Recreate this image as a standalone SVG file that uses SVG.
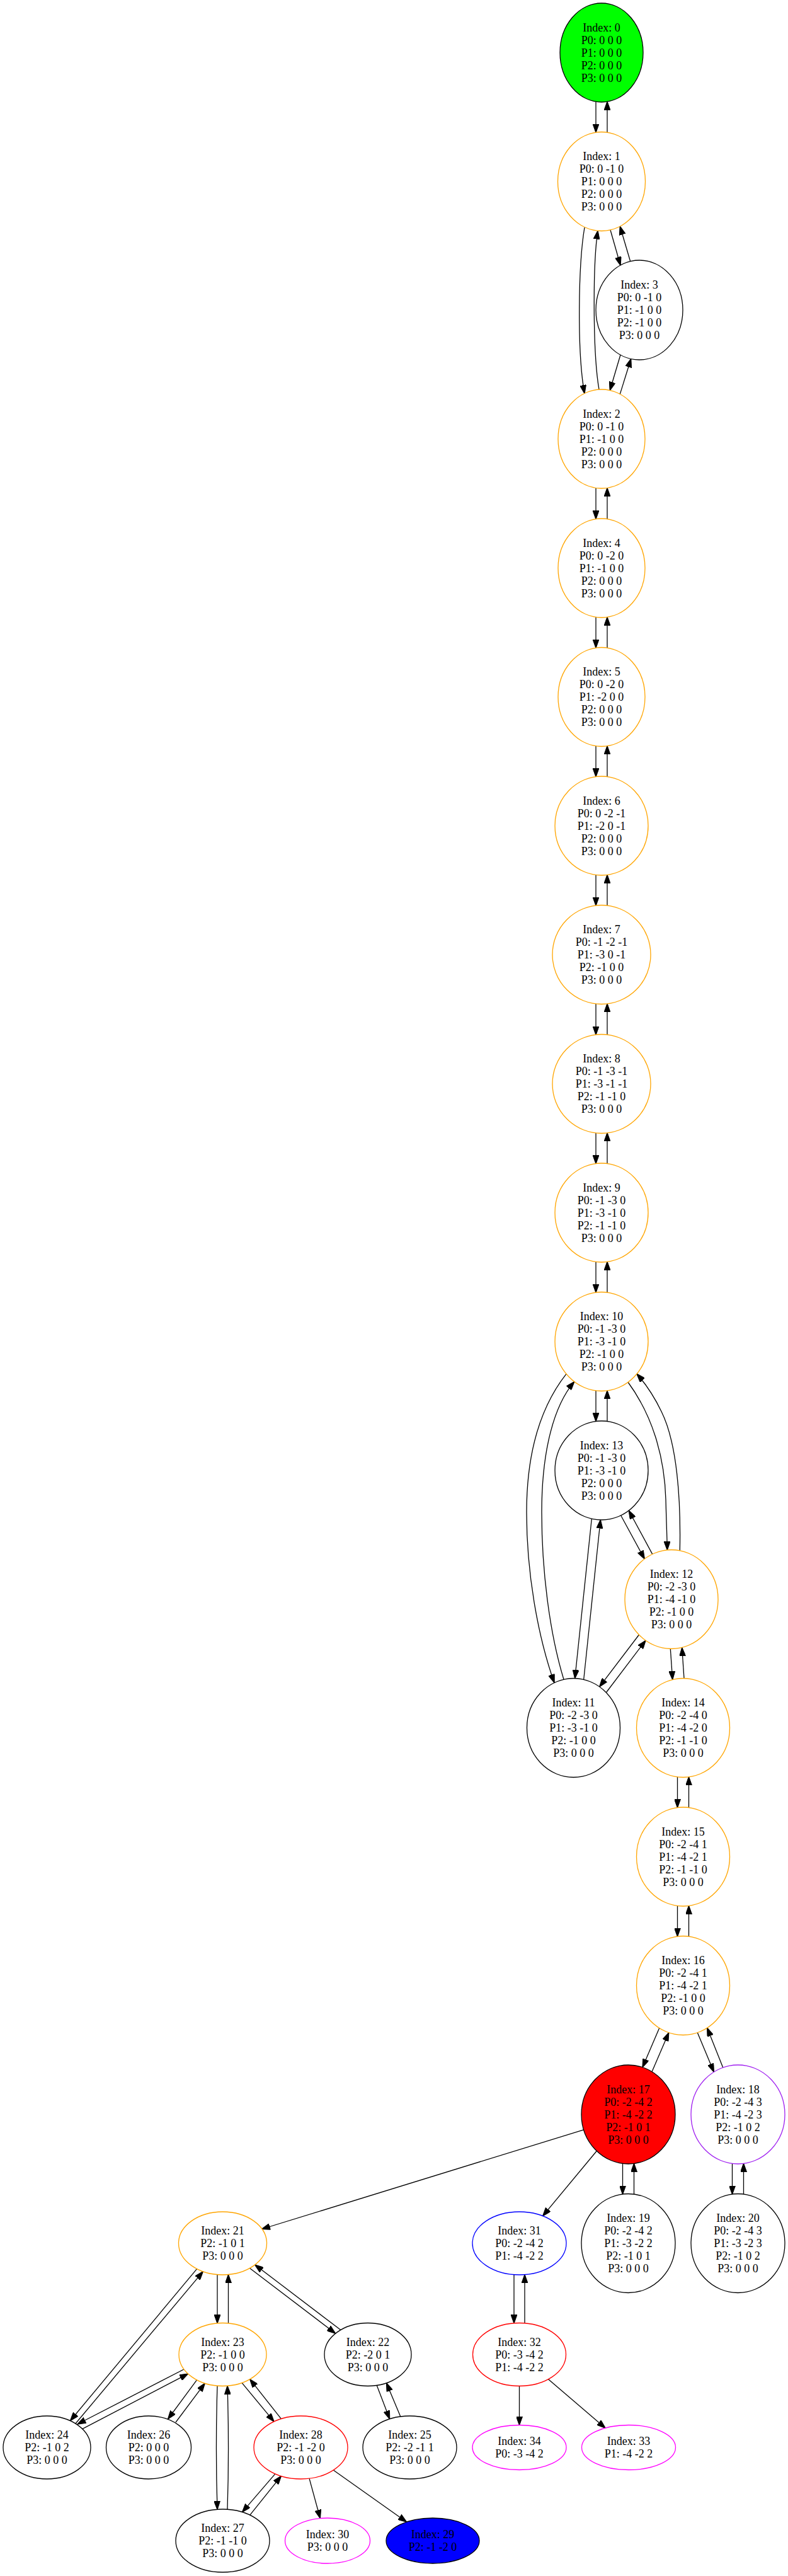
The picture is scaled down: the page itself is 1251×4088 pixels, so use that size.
<svg xmlns="http://www.w3.org/2000/svg" width="1251" height="4088" viewBox="0 0 1251 4088">
<style>
.nd ellipse{stroke-width:1.3;fill:#ffffff}
.k ellipse{stroke:#000000}
.o ellipse{stroke:#ffa500}
.r ellipse{stroke:#ff0000}
.b ellipse{stroke:#0000ff}
.m ellipse{stroke:#ff00ff}
.p ellipse{stroke:#a020f0}
.nd text{font-family:"Liberation Serif","Times New Roman",serif;font-size:18px;text-anchor:middle;fill:#000000}
#edges path{stroke:#000000;stroke-width:1.3;fill:none;marker-end:url(#ah)}
</style>
<defs>
<marker id="ah" viewBox="0 0 14 10" refX="13.5" refY="5" markerWidth="14" markerHeight="10" markerUnits="userSpaceOnUse" orient="auto">
<path d="M0,0 L14,5 L0,10 Z" fill="#000000" stroke="#000000" stroke-width="1"/>
</marker>
</defs>
<rect x="0" y="0" width="1251" height="4088" fill="#ffffff"/>
<g id="edges">
<path d="M946,161.3 L946,210.2"/><path d="M964,210.2 L964,161.3"/>
<path d="M928,361 C918,420 916,560 928,624.5"/>
<path d="M951,618 C941,560 941,420 949,366.2"/>
<path d="M969,365 L985,421"/>
<path d="M1000.7,414.7 L984.3,359.2"/>
<path d="M985,563.3 L968.3,619.5"/>
<path d="M984.3,625.4 L1001.7,569.5"/>
<path d="M946,774.3 L946,823.7"/><path d="M964,823.7 L964,774.3"/>
<path d="M946,979.3 L946,1028.2"/><path d="M964,1028.2 L964,979.3"/>
<path d="M946,1183.8 L946,1232.7"/><path d="M964,1232.7 L964,1183.8"/>
<path d="M946,1388.3 L946,1437.2"/><path d="M964,1437.2 L964,1388.3"/>
<path d="M946,1592.8 L946,1642.2"/><path d="M964,1642.2 L964,1592.8"/>
<path d="M946,1797.8 L946,1846.7"/><path d="M964,1846.7 L964,1797.8"/>
<path d="M946,2002.3 L946,2051.2"/><path d="M964,2051.2 L964,2002.3"/>
<path d="M946,2206.8 L946,2255.7"/><path d="M964,2255.7 L964,2206.8"/>
<path d="M899,2180.3 C860,2230 836,2300 836,2400 C836,2500 855,2600 880,2670.5"/>
<path d="M895,2665.2 C872,2590 860,2490 860,2400 C860,2300 880,2230 911.7,2192.7"/>
<path d="M996.7,2193 C1035,2245 1055,2310 1057,2380 C1058,2420 1059,2440 1059.3,2459.8"/>
<path d="M1079.3,2460.8 C1081,2380 1075,2290 1050,2240 C1038,2215 1025,2196 1011,2180.3"/>
<path d="M939.3,2410.2 L912.7,2663.5"/>
<path d="M926.7,2665.2 L953.3,2412"/>
<path d="M985.7,2405 L1023.3,2474"/>
<path d="M1035.7,2466.4 L998.3,2397.2"/>
<path d="M1014.3,2594.5 L951.7,2676.8"/>
<path d="M962.7,2685.5 L1025,2603.3"/>
<path d="M1064.3,2616.5 L1067.7,2665.5"/>
<path d="M1086,2663.5 L1082.7,2614.7"/>
<path d="M1075.5,2819.8 L1075.5,2868.7"/><path d="M1093.5,2868.7 L1093.5,2819.8"/>
<path d="M1075.5,3024.3 L1075.5,3073.2"/><path d="M1093.5,3073.2 L1093.5,3024.3"/>
<path d="M1046.7,3218.5 L1020,3280.7"/>
<path d="M1035,3287.7 L1061.7,3225.7"/>
<path d="M1107.3,3225.7 L1133.3,3288.1"/>
<path d="M1147.7,3281.1 L1122.7,3218.2"/>
<path d="M988.5,3433.3 L988.5,3482.2"/><path d="M1006.5,3482.2 L1006.5,3433.3"/>
<path d="M1162.5,3433.3 L1162.5,3482.2"/><path d="M1180.5,3482.2 L1180.5,3433.3"/>
<path d="M947.3,3413.5 L861.7,3516.7"/>
<path d="M926.7,3379.9 L415.4,3537.5"/>
<path d="M816,3609.7 L816,3686.8"/><path d="M833,3686.8 L833,3609.7"/>
<path d="M824.5,3786.5 L824.5,3848.5"/>
<path d="M870.5,3775.7 L961,3853.2"/>
<path d="M312.6,3600.6 L111.6,3841.5"/>
<path d="M120,3846 L322.3,3604.8"/>
<path d="M292,3760 L123,3847"/>
<path d="M130.7,3854.6 L298.5,3767.1"/>
<path d="M345,3609.6 L345,3686.9"/><path d="M362.5,3686.9 L362.5,3609.6"/>
<path d="M396.5,3599.5 L532.5,3703"/>
<path d="M540.8,3697.5 L404.7,3594.1"/>
<path d="M312.5,3776.9 L266.6,3839"/>
<path d="M279,3844 L325.3,3782.2"/>
<path d="M345,3786.3 C343,3850 343,3920 345,3982.3"/>
<path d="M361,3982.3 C363,3920 363,3850 361,3786.3"/>
<path d="M384,3781.4 L435,3842.9"/>
<path d="M446.4,3838.6 L396.7,3775.7"/>
<path d="M436.9,3925.9 L384.6,3986.6"/>
<path d="M396.7,3991.3 L446.4,3929.4"/>
<path d="M491,3933.2 L508.3,3996.5"/>
<path d="M529.3,3920 L645.4,4002.2"/>
<path d="M598.2,3785.4 L618.6,3838.8"/>
<path d="M635.8,3835 L613.5,3781.7"/>
</g>
<g id="n0" class="nd k"><ellipse cx="955" cy="83.5" rx="66" ry="78.5" style="fill:#00ff00"/><text x="955" y="49.5"><tspan x="955">Index: 0</tspan><tspan x="955" dy="20">P0: 0 0 0</tspan><tspan x="955" dy="20">P1: 0 0 0</tspan><tspan x="955" dy="20">P2: 0 0 0</tspan><tspan x="955" dy="20">P3: 0 0 0</tspan></text></g>
<g id="n1" class="nd o"><ellipse cx="955" cy="288" rx="69.5" ry="78.5"/><text x="955" y="254"><tspan x="955">Index: 1</tspan><tspan x="955" dy="20">P0: 0 -1 0</tspan><tspan x="955" dy="20">P1: 0 0 0</tspan><tspan x="955" dy="20">P2: 0 0 0</tspan><tspan x="955" dy="20">P3: 0 0 0</tspan></text></g>
<g id="n3" class="nd k"><ellipse cx="1015" cy="492" rx="69" ry="79"/><text x="1015" y="458"><tspan x="1015">Index: 3</tspan><tspan x="1015" dy="20">P0: 0 -1 0</tspan><tspan x="1015" dy="20">P1: -1 0 0</tspan><tspan x="1015" dy="20">P2: -1 0 0</tspan><tspan x="1015" dy="20">P3: 0 0 0</tspan></text></g>
<g id="n2" class="nd o"><ellipse cx="955" cy="696.5" rx="69" ry="78.5"/><text x="955" y="662.5"><tspan x="955">Index: 2</tspan><tspan x="955" dy="20">P0: 0 -1 0</tspan><tspan x="955" dy="20">P1: -1 0 0</tspan><tspan x="955" dy="20">P2: 0 0 0</tspan><tspan x="955" dy="20">P3: 0 0 0</tspan></text></g>
<g id="n4" class="nd o"><ellipse cx="955" cy="901.5" rx="69" ry="78.5"/><text x="955" y="867.5"><tspan x="955">Index: 4</tspan><tspan x="955" dy="20">P0: 0 -2 0</tspan><tspan x="955" dy="20">P1: -1 0 0</tspan><tspan x="955" dy="20">P2: 0 0 0</tspan><tspan x="955" dy="20">P3: 0 0 0</tspan></text></g>
<g id="n5" class="nd o"><ellipse cx="955" cy="1106" rx="69" ry="78.5"/><text x="955" y="1072"><tspan x="955">Index: 5</tspan><tspan x="955" dy="20">P0: 0 -2 0</tspan><tspan x="955" dy="20">P1: -2 0 0</tspan><tspan x="955" dy="20">P2: 0 0 0</tspan><tspan x="955" dy="20">P3: 0 0 0</tspan></text></g>
<g id="n6" class="nd o"><ellipse cx="955" cy="1310.5" rx="74" ry="78.5"/><text x="955" y="1276.5"><tspan x="955">Index: 6</tspan><tspan x="955" dy="20">P0: 0 -2 -1</tspan><tspan x="955" dy="20">P1: -2 0 -1</tspan><tspan x="955" dy="20">P2: 0 0 0</tspan><tspan x="955" dy="20">P3: 0 0 0</tspan></text></g>
<g id="n7" class="nd o"><ellipse cx="955" cy="1515" rx="78" ry="78.5"/><text x="955" y="1481"><tspan x="955">Index: 7</tspan><tspan x="955" dy="20">P0: -1 -2 -1</tspan><tspan x="955" dy="20">P1: -3 0 -1</tspan><tspan x="955" dy="20">P2: -1 0 0</tspan><tspan x="955" dy="20">P3: 0 0 0</tspan></text></g>
<g id="n8" class="nd o"><ellipse cx="955" cy="1720" rx="78" ry="78.5"/><text x="955" y="1686"><tspan x="955">Index: 8</tspan><tspan x="955" dy="20">P0: -1 -3 -1</tspan><tspan x="955" dy="20">P1: -3 -1 -1</tspan><tspan x="955" dy="20">P2: -1 -1 0</tspan><tspan x="955" dy="20">P3: 0 0 0</tspan></text></g>
<g id="n9" class="nd o"><ellipse cx="955" cy="1924.5" rx="74" ry="78.5"/><text x="955" y="1890.5"><tspan x="955">Index: 9</tspan><tspan x="955" dy="20">P0: -1 -3 0</tspan><tspan x="955" dy="20">P1: -3 -1 0</tspan><tspan x="955" dy="20">P2: -1 -1 0</tspan><tspan x="955" dy="20">P3: 0 0 0</tspan></text></g>
<g id="n10" class="nd o"><ellipse cx="955" cy="2129" rx="74" ry="78.5"/><text x="955" y="2095"><tspan x="955">Index: 10</tspan><tspan x="955" dy="20">P0: -1 -3 0</tspan><tspan x="955" dy="20">P1: -3 -1 0</tspan><tspan x="955" dy="20">P2: -1 0 0</tspan><tspan x="955" dy="20">P3: 0 0 0</tspan></text></g>
<g id="n13" class="nd k"><ellipse cx="955" cy="2333.5" rx="74" ry="78.5"/><text x="955" y="2299.5"><tspan x="955">Index: 13</tspan><tspan x="955" dy="20">P0: -1 -3 0</tspan><tspan x="955" dy="20">P1: -3 -1 0</tspan><tspan x="955" dy="20">P2: 0 0 0</tspan><tspan x="955" dy="20">P3: 0 0 0</tspan></text></g>
<g id="n12" class="nd o"><ellipse cx="1066" cy="2538" rx="74" ry="78.5"/><text x="1066" y="2504"><tspan x="1066">Index: 12</tspan><tspan x="1066" dy="20">P0: -2 -3 0</tspan><tspan x="1066" dy="20">P1: -4 -1 0</tspan><tspan x="1066" dy="20">P2: -1 0 0</tspan><tspan x="1066" dy="20">P3: 0 0 0</tspan></text></g>
<g id="n11" class="nd k"><ellipse cx="910.5" cy="2742" rx="74" ry="78.5"/><text x="910.5" y="2708"><tspan x="910.5">Index: 11</tspan><tspan x="910.5" dy="20">P0: -2 -3 0</tspan><tspan x="910.5" dy="20">P1: -3 -1 0</tspan><tspan x="910.5" dy="20">P2: -1 0 0</tspan><tspan x="910.5" dy="20">P3: 0 0 0</tspan></text></g>
<g id="n14" class="nd o"><ellipse cx="1084.5" cy="2742" rx="74" ry="78.5"/><text x="1084.5" y="2708"><tspan x="1084.5">Index: 14</tspan><tspan x="1084.5" dy="20">P0: -2 -4 0</tspan><tspan x="1084.5" dy="20">P1: -4 -2 0</tspan><tspan x="1084.5" dy="20">P2: -1 -1 0</tspan><tspan x="1084.5" dy="20">P3: 0 0 0</tspan></text></g>
<g id="n15" class="nd o"><ellipse cx="1084.5" cy="2946.5" rx="74" ry="78.5"/><text x="1084.5" y="2912.5"><tspan x="1084.5">Index: 15</tspan><tspan x="1084.5" dy="20">P0: -2 -4 1</tspan><tspan x="1084.5" dy="20">P1: -4 -2 1</tspan><tspan x="1084.5" dy="20">P2: -1 -1 0</tspan><tspan x="1084.5" dy="20">P3: 0 0 0</tspan></text></g>
<g id="n16" class="nd o"><ellipse cx="1084.5" cy="3151" rx="74" ry="78.5"/><text x="1084.5" y="3117"><tspan x="1084.5">Index: 16</tspan><tspan x="1084.5" dy="20">P0: -2 -4 1</tspan><tspan x="1084.5" dy="20">P1: -4 -2 1</tspan><tspan x="1084.5" dy="20">P2: -1 0 0</tspan><tspan x="1084.5" dy="20">P3: 0 0 0</tspan></text></g>
<g id="n17" class="nd k"><ellipse cx="997.5" cy="3355.5" rx="74.5" ry="78.5" style="fill:#ff0000"/><text x="997.5" y="3321.5"><tspan x="997.5">Index: 17</tspan><tspan x="997.5" dy="20">P0: -2 -4 2</tspan><tspan x="997.5" dy="20">P1: -4 -2 2</tspan><tspan x="997.5" dy="20">P2: -1 0 1</tspan><tspan x="997.5" dy="20">P3: 0 0 0</tspan></text></g>
<g id="n18" class="nd p"><ellipse cx="1171.5" cy="3355.5" rx="74.5" ry="78.5"/><text x="1171.5" y="3321.5"><tspan x="1171.5">Index: 18</tspan><tspan x="1171.5" dy="20">P0: -2 -4 3</tspan><tspan x="1171.5" dy="20">P1: -4 -2 3</tspan><tspan x="1171.5" dy="20">P2: -1 0 2</tspan><tspan x="1171.5" dy="20">P3: 0 0 0</tspan></text></g>
<g id="n19" class="nd k"><ellipse cx="997.5" cy="3560" rx="74.5" ry="78.5"/><text x="997.5" y="3526"><tspan x="997.5">Index: 19</tspan><tspan x="997.5" dy="20">P0: -2 -4 2</tspan><tspan x="997.5" dy="20">P1: -3 -2 2</tspan><tspan x="997.5" dy="20">P2: -1 0 1</tspan><tspan x="997.5" dy="20">P3: 0 0 0</tspan></text></g>
<g id="n20" class="nd k"><ellipse cx="1171.5" cy="3560" rx="74.5" ry="78.5"/><text x="1171.5" y="3526"><tspan x="1171.5">Index: 20</tspan><tspan x="1171.5" dy="20">P0: -2 -4 3</tspan><tspan x="1171.5" dy="20">P1: -3 -2 3</tspan><tspan x="1171.5" dy="20">P2: -1 0 2</tspan><tspan x="1171.5" dy="20">P3: 0 0 0</tspan></text></g>
<g id="n31" class="nd b"><ellipse cx="824.5" cy="3560" rx="74.5" ry="50"/><text x="824.5" y="3546"><tspan x="824.5">Index: 31</tspan><tspan x="824.5" dy="20">P0: -2 -4 2</tspan><tspan x="824.5" dy="20">P1: -4 -2 2</tspan></text></g>
<g id="n21" class="nd o"><ellipse cx="353.5" cy="3560" rx="70" ry="50"/><text x="353.5" y="3546"><tspan x="353.5">Index: 21</tspan><tspan x="353.5" dy="20">P2: -1 0 1</tspan><tspan x="353.5" dy="20">P3: 0 0 0</tspan></text></g>
<g id="n23" class="nd o"><ellipse cx="353.5" cy="3736.5" rx="69.5" ry="50"/><text x="353.5" y="3722.5"><tspan x="353.5">Index: 23</tspan><tspan x="353.5" dy="20">P2: -1 0 0</tspan><tspan x="353.5" dy="20">P3: 0 0 0</tspan></text></g>
<g id="n22" class="nd k"><ellipse cx="584" cy="3736.5" rx="69" ry="50"/><text x="584" y="3722.5"><tspan x="584">Index: 22</tspan><tspan x="584" dy="20">P2: -2 0 1</tspan><tspan x="584" dy="20">P3: 0 0 0</tspan></text></g>
<g id="n32" class="nd r"><ellipse cx="824.5" cy="3736.5" rx="74" ry="50"/><text x="824.5" y="3722.5"><tspan x="824.5">Index: 32</tspan><tspan x="824.5" dy="20">P0: -3 -4 2</tspan><tspan x="824.5" dy="20">P1: -4 -2 2</tspan></text></g>
<g id="n24" class="nd k"><ellipse cx="74.5" cy="3884" rx="69.5" ry="50"/><text x="74.5" y="3870"><tspan x="74.5">Index: 24</tspan><tspan x="74.5" dy="20">P2: -1 0 2</tspan><tspan x="74.5" dy="20">P3: 0 0 0</tspan></text></g>
<g id="n26" class="nd k"><ellipse cx="236" cy="3884" rx="67.5" ry="50"/><text x="236" y="3870"><tspan x="236">Index: 26</tspan><tspan x="236" dy="20">P2: 0 0 0</tspan><tspan x="236" dy="20">P3: 0 0 0</tspan></text></g>
<g id="n28" class="nd r"><ellipse cx="477.5" cy="3884" rx="74.5" ry="50"/><text x="477.5" y="3870"><tspan x="477.5">Index: 28</tspan><tspan x="477.5" dy="20">P2: -1 -2 0</tspan><tspan x="477.5" dy="20">P3: 0 0 0</tspan></text></g>
<g id="n25" class="nd k"><ellipse cx="650.5" cy="3884" rx="74.5" ry="50"/><text x="650.5" y="3870"><tspan x="650.5">Index: 25</tspan><tspan x="650.5" dy="20">P2: -2 -1 1</tspan><tspan x="650.5" dy="20">P3: 0 0 0</tspan></text></g>
<g id="n34" class="nd m"><ellipse cx="824.5" cy="3884" rx="74.5" ry="35.5"/><text x="824.5" y="3880"><tspan x="824.5">Index: 34</tspan><tspan x="824.5" dy="20">P0: -3 -4 2</tspan></text></g>
<g id="n33" class="nd m"><ellipse cx="998" cy="3884" rx="74.5" ry="35.5"/><text x="998" y="3880"><tspan x="998">Index: 33</tspan><tspan x="998" dy="20">P1: -4 -2 2</tspan></text></g>
<g id="n27" class="nd k"><ellipse cx="353.5" cy="4032" rx="74.5" ry="50"/><text x="353.5" y="4018"><tspan x="353.5">Index: 27</tspan><tspan x="353.5" dy="20">P2: -1 -1 0</tspan><tspan x="353.5" dy="20">P3: 0 0 0</tspan></text></g>
<g id="n30" class="nd m"><ellipse cx="520" cy="4032" rx="67.5" ry="36"/><text x="520" y="4028"><tspan x="520">Index: 30</tspan><tspan x="520" dy="20">P3: 0 0 0</tspan></text></g>
<g id="n29" class="nd k"><ellipse cx="687" cy="4032" rx="74" ry="36" style="fill:#0000ff"/><text x="687" y="4028"><tspan x="687">Index: 29</tspan><tspan x="687" dy="20">P2: -1 -2 0</tspan></text></g>
</svg>
